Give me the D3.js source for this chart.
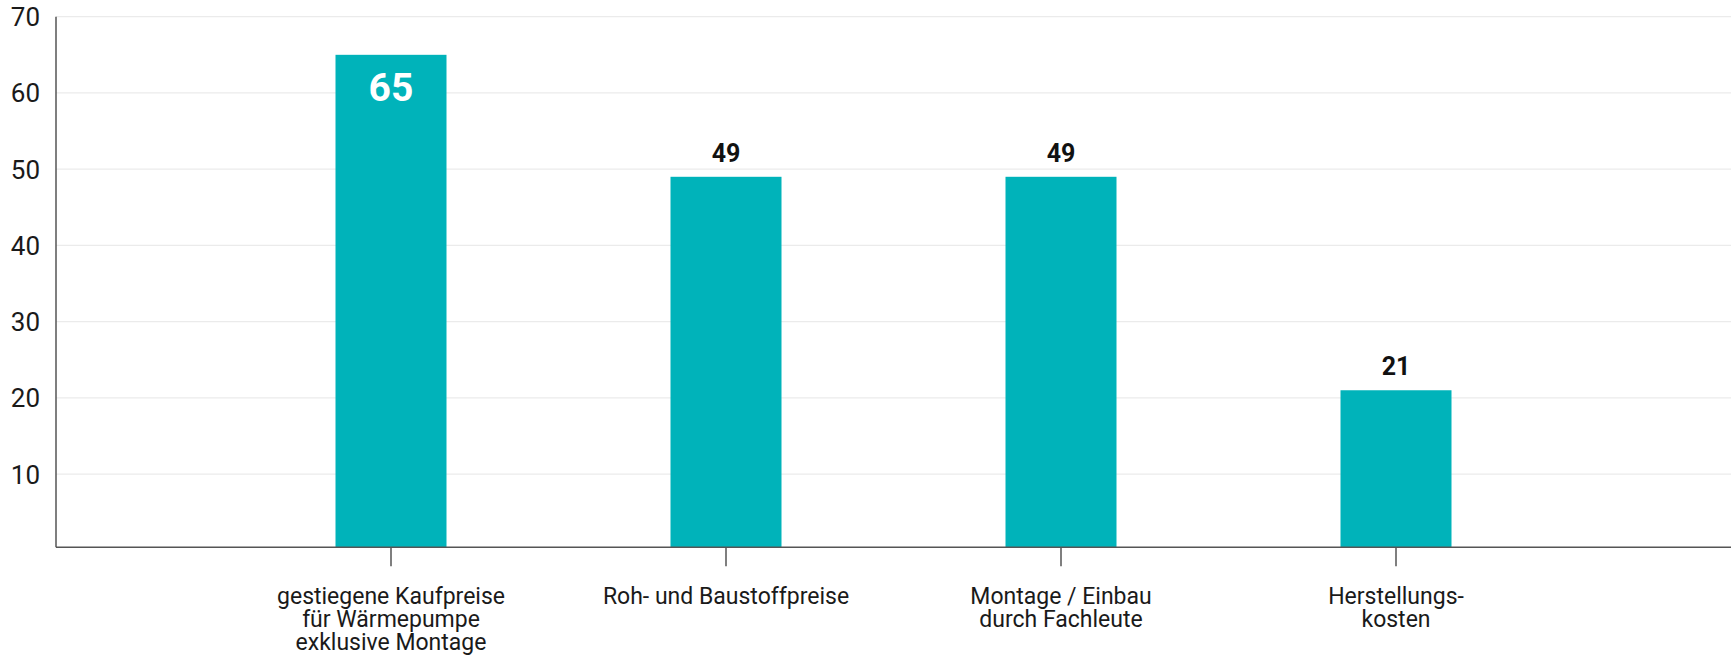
<!DOCTYPE html>
<html>
<head>
<meta charset="utf-8">
<script src="https://cdn.jsdelivr.net/npm/d3@7"></script>
<style>
  body { margin: 0; background: #fff; }
  svg { display: block; font-family: Roboto, "Open Sans", sans-serif; }
</style>
</head>
<body>
<svg id="chart" width="1731" height="655"></svg>
<script>
// categories and values
const categories = [
  "gestiegene Kaufpreise\nfür Wärmepumpe\nexklusive Montage",
  "Roh- und Baustoffpreise",
  "Montage / Einbau\ndurch Fachleute",
  "Herstellungs-\nkosten"
];
const values = [65, 49, 49, 21];
const yTicks = [10, 20, 30, 40, 50, 60, 70];

const W = 1731, H = 655;
const mLeft = 56, mRight = W, mTop = 16.7, mBottom = 547.3;

const svg = d3.select("#chart");

const x = d3.scalePoint().domain(categories).range([mLeft, mRight]).padding(1);
const y = d3.scaleLinear().domain([0.4, 70]).range([mBottom, mTop]);
const barW = 111;

// gridlines
svg.append("g").selectAll("line").data(yTicks).enter()
  .append("line")
  .attr("x1", mLeft).attr("x2", mRight)
  .attr("y1", d => y(d)).attr("y2", d => y(d))
  .attr("stroke", "#ebebeb").attr("stroke-width", 1.2);

// y labels
svg.append("g").selectAll("text").data(yTicks).enter()
  .append("text")
  .attr("x", 40).attr("y", d => y(d) + 9.5)
  .attr("text-anchor", "end")
  .style("font-size", "26px").style("fill", "#1a1a1a")
  .text(d => d);

// bars
svg.append("g").selectAll("rect").data(values).enter()
  .append("rect")
  .attr("x", (d, i) => x(categories[i]) - barW / 2)
  .attr("width", barW)
  .attr("y", d => y(d))
  .attr("height", d => y(0.4) - y(d))
  .attr("fill", "#00b3ba");

// value labels: the tallest one sits inside the bar in white
const maxV = d3.max(values);
svg.append("g").selectAll("text").data(values).enter()
  .append("text")
  .attr("x", (d, i) => x(categories[i]))
  .attr("y", d => d === maxV ? y(d) + 46 : y(d) - 15)
  .attr("text-anchor", "middle")
  .style("font-weight", "bold")
  .style("font-size", d => d === maxV ? "39px" : "25px")
  .style("fill", d => d === maxV ? "#fff" : "#111")
  .text(d => d);

// axes lines
svg.append("line")
  .attr("x1", mLeft).attr("x2", mLeft).attr("y1", mTop).attr("y2", mBottom)
  .attr("stroke", "#555").attr("stroke-width", 1.5);
svg.append("line")
  .attr("x1", mLeft).attr("x2", mRight).attr("y1", mBottom).attr("y2", mBottom)
  .attr("stroke", "#555").attr("stroke-width", 1.5);

// x ticks + labels
const xg = svg.append("g").selectAll("g").data(categories).enter()
  .append("g").attr("transform", d => `translate(${x(d)},${mBottom})`);
xg.append("line").attr("y1", 0).attr("y2", 19).attr("stroke", "#555").attr("stroke-width", 1.5);
xg.append("text")
  .attr("text-anchor", "middle")
  .style("font-size", "23px").style("fill", "#1a1a1a")
  .selectAll("tspan").data(d => d.split("\n")).enter()
  .append("tspan")
  .attr("x", 0)
  .attr("y", (d, i) => 57 + i * 23)
  .text(d => d);
</script>
</body>
</html>
